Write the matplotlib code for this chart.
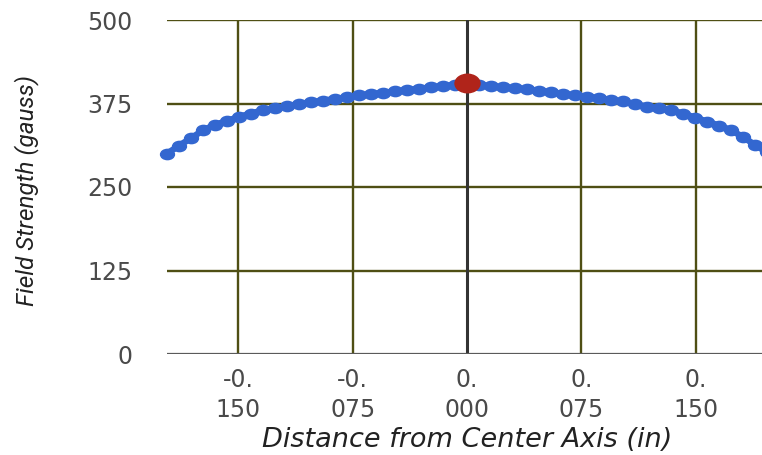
import matplotlib
matplotlib.use("Agg")
import matplotlib.pyplot as plt
from matplotlib.path import Path
from matplotlib.transforms import Affine2D

# distance from center axis, mm (plotted in inches)
distance_mm = [-5.0, -4.8, -4.6, -4.4, -4.2, -4.0, -3.8, -3.6, -3.4, -3.2,
               -3.0, -2.8, -2.6, -2.4, -2.2, -2.0, -1.8, -1.6, -1.4, -1.2,
               -1.0, -0.8, -0.6, -0.4, -0.2, 0.0, 0.2, 0.4, 0.6, 0.8,
               1.0, 1.2, 1.4, 1.6, 1.8, 2.0, 2.2, 2.4, 2.6, 2.8,
               3.0, 3.2, 3.4, 3.6, 3.8, 4.0, 4.2, 4.4, 4.6, 4.8, 5.0]
field_gauss = [300, 312, 323, 335, 343, 349, 355, 360, 365, 368,
               371, 374, 377, 379, 382, 384, 387, 389, 391, 393,
               395, 397, 399, 401, 403, 405, 403, 401, 399, 398,
               396, 394, 392, 389, 387, 385, 383, 380, 378, 374,
               370, 368, 365, 360, 354, 348, 342, 335, 325, 313, 302]
center_x = [0.0]
center_y = [405]

x_ticks = [-0.15, -0.075, 0.0, 0.075, 0.15]
x_tick_labels = ["-0.\n150", "-0.\n075", "0.\n000", "0.\n075", "0.\n150"]
y_ticks = [0, 125, 250, 375, 500]

x_in = [d / 25.4 for d in distance_mm]

olive = "#4f4f14"
blue = "#3367d0"
red = "#b0241a"

# markers in the picture are a bit wider than tall
ellipse = Path.unit_circle().transformed(Affine2D().scale(1.35, 1.0))

fig = plt.figure(figsize=(7.62, 4.55), dpi=100)
ax = fig.add_axes([167 / 762, 1 - 354 / 455, 595 / 762, 334 / 455])

ax.set_xlim(-0.1969, 0.1936)
ax.set_ylim(0, 500)

for s in ax.spines.values():
    s.set_visible(False)

for yv in y_ticks[1:]:
    ax.axhline(yv, color=olive, lw=1.7, zorder=1)
for xv in x_ticks:
    if xv == 0:
        ax.axvline(xv, color="#333333", lw=2.2, zorder=1.5)
    else:
        ax.axvline(xv, color=olive, lw=1.7, zorder=1)
ax.axhline(0, color="#5a5a5a", lw=1.6, zorder=1.6)

ax.plot(x_in, field_gauss, color=blue, lw=4.6, marker=ellipse, ms=10,
        solid_capstyle="round", zorder=3, clip_on=False)
ax.plot(center_x, center_y, linestyle="none", marker=ellipse, ms=18,
        color=red, zorder=4, clip_on=False)

ax.set_xticks(x_ticks)
ax.set_xticklabels(x_tick_labels, fontsize=17, color="#4a4a4a",
                   family="DejaVu Sans", linespacing=1.32)
ax.set_yticks(y_ticks)
ax.set_yticklabels([str(v) for v in y_ticks], fontsize=17, color="#4a4a4a",
                   family="DejaVu Sans")
ax.tick_params(axis="x", length=0, pad=10)
ax.tick_params(axis="y", length=0, pad=25)

ax.set_xlabel("Distance from Center Axis (in)", fontsize=19.5,
              style="italic", family="DejaVu Sans", color="#222222")
ax.xaxis.set_label_coords((467 - 167) / 595, (354 - 447) / 334)
ax.xaxis.label.set_va("baseline")

fig.text(27 / 762, 1 - 190 / 455, "Field Strength (gauss)", rotation=90,
         ha="center", va="center", fontsize=17.5, style="italic",
         family="Roboto", color="#222222")

fig.savefig("out.png", dpi=100)
